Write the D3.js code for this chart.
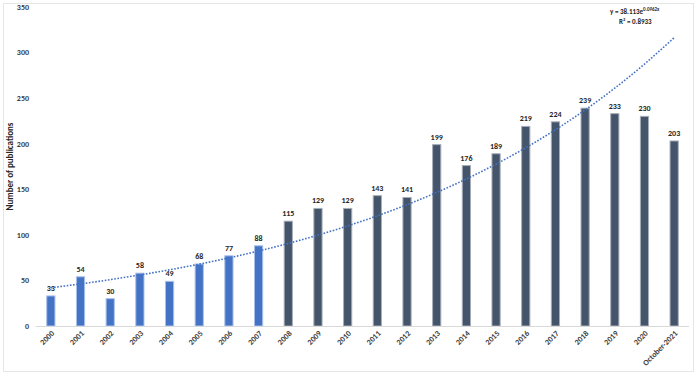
<!DOCTYPE html>
<html>
<head>
<meta charset="utf-8">
<script src="https://cdn.jsdelivr.net/npm/d3@7"></script>
<style>
  html, body { margin:0; padding:0; background:#fff; }
  svg { display:block; font-family:Calibri, Carlito, "Liberation Sans", Arial, sans-serif; }
</style>
</head>
<body>
<svg id="chart" width="699" height="377"></svg>
<script>
// data
const years = ["2000","2001","2002","2003","2004","2005","2006","2007","2008","2009","2010",
  "2011","2012","2013","2014","2015","2016","2017","2018","2019","2020","October-2021"];
const publications = [33,54,30,58,49,68,77,88,115,129,129,143,141,199,176,189,219,224,239,233,230,203];
const yTicks = [0,50,100,150,200,250,300,350];
// exponential trendline: y = a * e^(b x)
const trendA = 38.113, trendB = 0.0962;
const eqText = "y = 38.113e", eqExp = "0.0962x", r2Text = "R² = 0.8933";

const svg = d3.select("#chart");
const W = 699, H = 377;
const m = { left:36, right:10, top:7, bottom:51 };

// frame
svg.append("rect").attr("x",3.5).attr("y",3.5).attr("width",690).attr("height",368)
  .attr("fill","none").attr("stroke","#e6e6e6");

const x = d3.scaleBand().domain(years).range([m.left, W-m.right]).paddingInner(0.69).paddingOuter(0.345);
const y = d3.scaleLinear().domain([0,350]).range([H-m.bottom, m.top]);

// y labels
svg.append("g").selectAll("text").data(yTicks).join("text")
  .attr("x",29).attr("y",d=>y(d)).attr("dy","0.35em")
  .attr("text-anchor","end").style("font-size","8px").style("font-weight","bold").attr("fill","#404040")
  .text(d=>d);

svg.append("text")
  .attr("transform",`translate(13,${y(175)}) rotate(-90)`)
  .attr("text-anchor","middle").style("font-size","9px").style("font-weight","bold").attr("fill","#262626")
  .text("Number of publications");

// bars
svg.append("g").selectAll("rect").data(publications).join("rect")
  .attr("x",(d,i)=>x(years[i])+0.5)
  .attr("y",d=>y(d))
  .attr("width",x.bandwidth()-1)
  .attr("height",d=>y(0)-y(d))
  .attr("fill",(d,i)=>i<8 ? "#4472C4" : "#44546A")
  .attr("stroke",(d,i)=>i<8 ? "#a9c1ec" : "#a6adb8")
  .attr("stroke-width",1);

// baseline
svg.append("line").attr("x1",m.left).attr("x2",W-m.right).attr("y1",y(0)+0.5).attr("y2",y(0)+0.5)
  .attr("stroke","#d9d9d9").attr("stroke-width",1);

// value labels
svg.append("g").selectAll("text").data(publications).join("text")
  .attr("x",(d,i)=>x(years[i])+x.bandwidth()/2)
  .attr("y",d=>y(d)-5)
  .attr("text-anchor","middle").style("font-size","8px").style("font-weight","bold").attr("fill","#262626")
  .text(d=>d);

// x labels
svg.append("g").selectAll("text").data(years).join("text")
  .attr("transform",d=>`translate(${x(d)+x.bandwidth()/2+4},${y(0)+8}) rotate(-45)`)
  .attr("text-anchor","end").style("font-size","8px").style("font-weight","bold").attr("fill","#404040")
  .text(d=>d);

// trendline
const trend = years.map((d,i)=>({ cat:d, v: trendA*Math.exp(trendB*(i+1)) }));
svg.append("path").datum(trend)
  .attr("fill","none").attr("stroke","#4472C4").attr("stroke-width",1.6)
  .attr("stroke-dasharray","1.6,1.6")
  .attr("d", d3.line().x(d=>x(d.cat)+x.bandwidth()/2).y(d=>y(d.v)).curve(d3.curveMonotoneX));

// equation
const eq = svg.append("text").attr("x",610).attr("y",14)
  .style("font-size","7px").style("font-weight","bold").attr("fill","#262626");
eq.append("tspan").text(eqText);
eq.append("tspan").attr("dy","-3").style("font-size","5px").text(eqExp);
svg.append("text").attr("x",619).attr("y",24)
  .style("font-size","7px").style("font-weight","bold").attr("fill","#262626")
  .text(r2Text);
</script>
</body>
</html>
